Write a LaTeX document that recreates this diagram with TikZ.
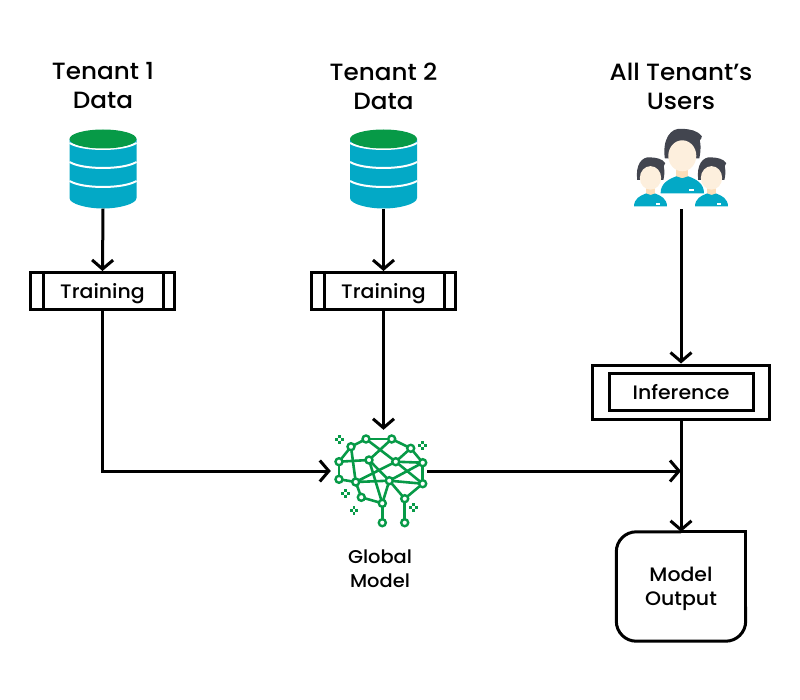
\documentclass[tikz,border=0pt]{standalone}
\usepackage{fontspec}
\setmainfont{Poppins Medium}[FakeStretch=1.05]
\usetikzlibrary{arrows.meta}
\definecolor{dbteal}{HTML}{03A9C6}
\definecolor{dbgreen}{HTML}{079A47}
\definecolor{hairdark}{HTML}{42454F}
\definecolor{facelight}{HTML}{FDEFDD}
\definecolor{neckdark}{HTML}{FBDDB8}
\tikzset{
    arrow/.style={line width=3pt,-{Straight Barb[length=9pt,width=21pt]}},
    title/.style={font=\fontsize{23.5}{29}\selectfont,align=center,inner sep=0pt},
    label/.style={font=\fontsize{19.5}{24}\selectfont,align=center,inner sep=0pt,text depth=-2pt},
    boxline/.style={draw,line width=3pt},
    dot/.style={circle,draw=dbgreen,line width=2.4pt,fill=white,minimum size=7pt,inner sep=0pt},
    link/.style={dbgreen,line width=2.6pt},
    person/.pic={
        \fill[hairdark] (-17.5,5) .. controls (-20,-14) and (-12,-26) .. (0,-24.5)
            .. controls (8,-24) and (15,-23) .. (19.5,-17) .. controls (19.5,-15) and (18.5,-14) .. (17.5,-13)
            .. controls (19,-5) and (18,0) .. (17,5) -- cycle;
        \fill[neckdark] (-6,12) rectangle (6,25);
        \fill[facelight] (0,2.5) ellipse [x radius=14,y radius=15.5];
        \fill[dbteal] (-21.7,40) .. controls (-21.7,30) and (-14,26) .. (-6,23)
            -- (0,25) -- (6,23) .. controls (14,26) and (21.7,30) .. (21.7,40) -- cycle;
        \fill[white] (7,36) rectangle (12,38);
    },
}
\begin{document}
\begin{tikzpicture}[x=1pt,y=-1pt]
    \useasboundingbox (0,0) rectangle (800,700);

    % --- Titles ---
    \node[title] (titlea) at (103,86) {Tenant 1\\Data};
    \node[title] (titleb) at (383.5,86) {Tenant 2\\Data};
    \node[title] (titlec) at (681,86) {All Tenant’s\\Users};

    % --- Databases ---
    \foreach \name / \cx in {dba/103,dbb/383.5}{
        \node[minimum width=67pt,minimum height=80pt,inner sep=0pt] (\name) at (\cx,168.5) {};
        \begin{scope}[shift={(\cx,0)}]
            \fill[dbteal] (-33.5,139) -- (-33.5,198) .. controls (-33.5,204) and (-16,208.5) .. (0,208.5)
                .. controls (16,208.5) and (33.5,204) .. (33.5,198) -- (33.5,139) -- cycle;
            \foreach \yy in {143,162,181}{
                \draw[white,line width=2pt] (-33.5,\yy) .. controls (-20,\yy+8) and (20,\yy+8) .. (33.5,\yy);
            }
            \fill[dbgreen] (0,139) ellipse [x radius=33.5,y radius=9.5];
        \end{scope}
    }

    % --- Users ---
    \node[minimum width=96pt,minimum height=80pt,inner sep=0pt] (users) at (681,169) {};
    \pic at (682.3,153.3) {person};
    \pic[scale=0.76] at (650.5,176) {person};
    \pic[scale=0.76] at (711.5,176) {person};

    % --- Training boxes ---
    \node[boxline,label,minimum width=144pt,minimum height=37pt] (traina) at (102.5,291) {Training};
    \node[boxline,label,minimum width=144pt,minimum height=37pt] (trainb) at (383.5,291) {Training};
    \foreach \name in {traina,trainb}{
        \draw[line width=3pt] ([xshift=14pt]\name.north west) -- ([xshift=14pt]\name.south west);
        \draw[line width=3pt] ([xshift=-13pt]\name.north east) -- ([xshift=-13pt]\name.south east);
    }

    % --- Inference ---
    \node[boxline,minimum width=177pt,minimum height=54pt] (infouter) at (681,392) {};
    \node[boxline,label,minimum width=144pt,minimum height=37pt] (inf) at (681,392) {Inference};

    % --- Output ---
    \node[label,text depth=-4pt,minimum width=129pt,minimum height=109pt] (output) at (681,586.5) {Model\\Output};
    \draw[line width=3pt,rounded corners=20pt] (output.north) -- (output.north west) -- (output.south west)
        -- (output.south east) -- ([yshift=-20pt]output.east);
    \draw[line width=3pt] ([yshift=-20pt]output.east) -- (output.north east) -- (output.north);

    % --- Brain ---
    \node[minimum width=96pt,minimum height=82pt,inner sep=0pt] (brain) at (379,471) {};
    \foreach \name / \px / \py in {n1/366/439,n2/391.7/439,n3/351/446.7,n4/410.7/448.3,n5/339/461.7,
        n6/369/460,n7/395.7/461.7,n8/422.7/462.7,n9/339/479.3,n10/355.7/482,n11/389.3/480.7,
        n12/422.7/483.7,n13/361.3/497.3,n14/382.3/503.3,n15/404.7/498.7,n16/382.3/522.7,n17/404.7/522.7}{
        \coordinate (\name) at (\px,\py);
    }
    \foreach \a / \b in {n1/n2,n1/n3,n2/n4,n4/n8,n8/n12,n3/n5,n5/n9,n9/n10,n10/n13,n13/n14,n14/n16,
        n15/n17,n15/n12,n11/n15,n11/n12,n5/n6,n3/n10,n2/n6,n1/n7,n7/n4,n7/n8,n7/n12,n8/n11,n6/n14,
        n10/n7,n10/n11,n11/n14,n6/n11}{
        \draw[link] (\a) -- (\b);
    }
    \foreach \name in {n1,n2,n3,n4,n5,n6,n7,n8,n9,n10,n11,n12,n13,n14,n15,n16,n17}{
        \node[dot] at (\name) {};
    }
    \foreach \sx / \sy in {339.5/439.5,422.5/445.5,345.5/493.5,354/510.5,413.5/507.5}{
        \foreach \dx / \dy in {-2.7/0,2.7/0,0/-2.7,0/2.7}{
            \fill[dbgreen] (\sx+\dx-1.4,\sy+\dy-1.4) rectangle (\sx+\dx+1.4,\sy+\dy+1.4);
        }
    }
    \node[label,font=\fontsize{18.5}{24}\selectfont] (brainlabel) at (380,569) {Global\\Model};

    % --- Connectors ---
    \draw[arrow] (dba.south) -- (traina.north);
    \draw[arrow] (dbb.south) -- (trainb.north);
    \draw[arrow] (users.south) -- (infouter.north);
    \draw[arrow] (trainb.south) -- (trainb.south |- brain.north);
    \draw[arrow] (traina.south) |- (brain.west);
    \draw[arrow] (brain.east) -- (inf.south |- brain.east);
    \draw[arrow] (infouter.south) -- (output.north);
\end{tikzpicture}
\end{document}
